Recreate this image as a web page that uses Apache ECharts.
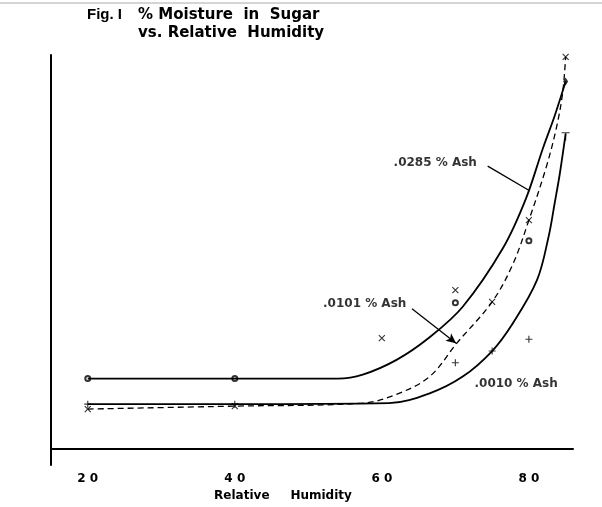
<!DOCTYPE html>
<html><head><meta charset="utf-8">
<script src="https://cdn.jsdelivr.net/npm/echarts@6/dist/echarts.min.js"></script>
<style>html,body{margin:0;padding:0;background:#fff}#c{width:602px;height:507px}</style>
</head><body><div id="c"></div>
<script>
// ---- data (relative humidity %, moisture %) ----
const humidityTicks = [20, 40, 60, 80];
const ash0285Curve = [[20,0.071],[40,0.071],[54,0.071],[57.4,0.075],[62,0.090],[66.5,0.113],[71,0.144],[76.5,0.204],[79.6,0.254],[81.9,0.305],[83.5,0.338],[85,0.373]];
const ash0101Curve = [[20,0.040],[40,0.043],[57.4,0.046],[62,0.055],[66.5,0.073],[70.2,0.107],[75,0.149],[77.8,0.187],[80,0.232],[82.4,0.287],[83.8,0.328],[84.6,0.362],[85,0.398]];
const ash0010Curve = [[20,0.045],[40,0.045],[61,0.046],[66.5,0.056],[71,0.073],[75,0.099],[77.8,0.127],[81.1,0.171],[82.7,0.216],[83.5,0.249],[84.2,0.279],[85,0.320]];
const ash0285Points = [[20,0.071],[40,0.071],[70,0.148],[80,0.211]];
const ash0285End = [[85,0.373]];
const ash0101Points = [[20,0.040],[40,0.043],[60,0.112],[70,0.161],[75,0.149],[80,0.232],[85,0.398]];
const ash0010Points = [[20,0.045],[40,0.045],[70,0.087],[75,0.099],[80,0.111]];
const ash0010End = [[85,0.320]];
const curveNames = ['.0285 % Ash', '.0101 % Ash', '.0010 % Ash'];
const curveLabelAt = [[61.6,0.290],[52.0,0.147],[72.6,0.066]];
const leader0285 = [[74.4,0.287],[80.1,0.262]];
const arrow0101 = [[64.1,0.142],[70.1,0.107]];

const X_SYM = 'path://M0,0L10,10M10,0L0,10';
const PLUS_SYM = 'path://M5,0L5,10M0,5L10,5';
const TEE_SYM = 'path://M0,0L10,0M5,0L5,10';
const ink = '#000';
const strokeMark = {color: 'transparent', borderColor: ink, borderWidth: 1.1};

const chart = echarts.init(document.getElementById('c'), null, {renderer: 'canvas'});
chart.setOption({
  animation: false,
  backgroundColor: '#fff',
  title: {
    text: '% Moisture  in  Sugar\nvs. Relative  Humidity',
    left: 138, top: 6, padding: 0,
    textStyle: {fontSize: 15, fontWeight: 'bold', fontFamily: 'DejaVu Sans', lineHeight: 18, color: ink}
  },
  graphic: [
    {type: 'text', left: 87, top: 7, style: {text: 'Fig. I', font: 'bold 15px "Liberation Sans"', fill: ink}},
    {type: 'text', left: 13, top: -9, style: {text: '0.5', font: '12px "Liberation Sans"', fill: '#555'}},
    {type: 'line', shape: {x1: 0, y1: 3, x2: 602, y2: 3}, style: {stroke: '#aaa', lineWidth: 1}}
  ],
  grid: {left: 51, right: 29, top: 55, bottom: 37},
  xAxis: {
    type: 'value', min: 15, max: 86, interval: 5,
    axisLine: {onZero: true, lineStyle: {color: ink, width: 2}},
    axisTick: {show: false}, splitLine: {show: false},
    axisLabel: {
      margin: 8, color: ink, fontSize: 12, fontWeight: 'bold', fontFamily: 'DejaVu Sans',
      formatter: v => humidityTicks.includes(v) ? String(v).split('').join(' ') : '',
      showMinLabel: true, showMaxLabel: false
    },
    name: 'Relative     Humidity', nameLocation: 'middle', nameGap: 24,
    nameTextStyle: {color: ink, fontSize: 12, fontWeight: 'bold', fontFamily: 'DejaVu Sans', padding: [0, 58, 0, 0]}
  },
  yAxis: {
    type: 'value', min: -0.017, max: 0.4,
    axisLine: {show: true, lineStyle: {color: ink, width: 2}},
    axisTick: {show: false}, splitLine: {show: false}, axisLabel: {show: false}
  },
  series: [
    {type: 'line', name: curveNames[0], data: ash0285Curve, smooth: 0.35, showSymbol: false,
     lineStyle: {color: ink, width: 1.8},
     markLine: {silent: true, symbol: ['none', 'none'], lineStyle: {color: ink, width: 1.3, type: 'solid'}, label: {show: false},
       data: [[{coord: leader0285[0]}, {coord: leader0285[1]}]]}},
    {type: 'line', name: curveNames[1], data: ash0101Curve, smooth: 0.35, showSymbol: false,
     lineStyle: {color: ink, width: 1.3, type: [6, 4]},
     markLine: {silent: true, symbol: ['none', 'arrow'], symbolSize: [7, 10], lineStyle: {color: ink, width: 1.3, type: 'solid'}, label: {show: false},
       data: [[{coord: arrow0101[0]}, {coord: arrow0101[1]}]]}},
    {type: 'line', name: curveNames[2], data: ash0010Curve, smooth: 0.35, showSymbol: false,
     lineStyle: {color: ink, width: 1.8}},
    {type: 'scatter', data: ash0285Points, symbol: 'emptyCircle', symbolSize: 5, itemStyle: {color: ink, borderColor: ink, borderWidth: 1.3}},
    {type: 'scatter', data: ash0285End, symbol: 'diamond', symbolSize: [5, 8], itemStyle: {color: ink}},
    {type: 'scatter', data: ash0101Points, symbol: X_SYM, symbolSize: 6, itemStyle: strokeMark},
    {type: 'scatter', data: ash0010Points, symbol: PLUS_SYM, symbolSize: 7, itemStyle: strokeMark},
    {type: 'scatter', data: ash0010End, symbol: TEE_SYM, symbolSize: 8, symbolOffset: [0, 3], itemStyle: strokeMark},
    {type: 'scatter', symbolSize: 0, silent: true,
     data: curveLabelAt.map((p, i) => ({value: p, name: curveNames[i]})),
     label: {show: true, position: 'right', distance: 0, formatter: '{b}', color: ink, fontSize: 12, fontWeight: 'bold', fontFamily: 'DejaVu Sans'}}
  ]
});
</script></body></html>
